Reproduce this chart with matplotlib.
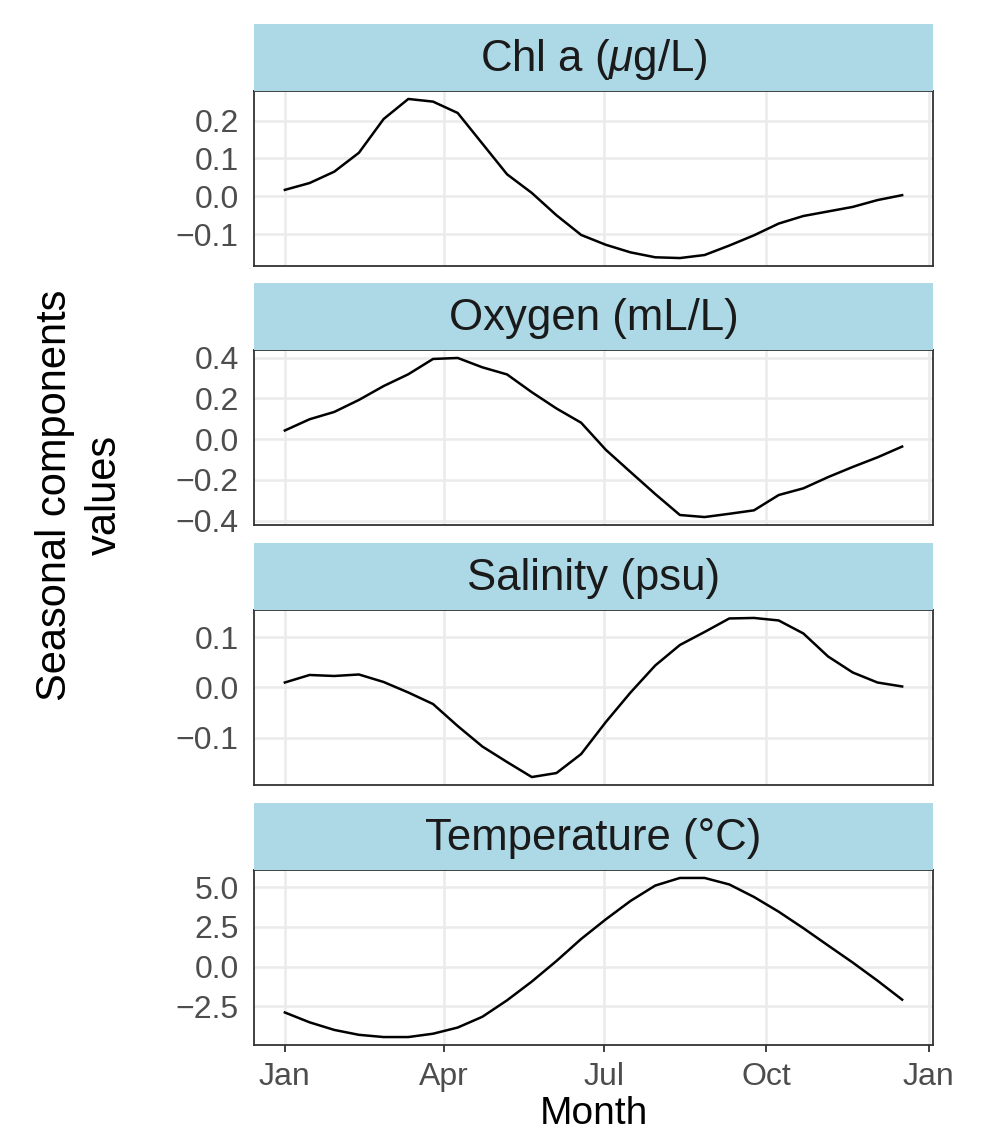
import datetime as dt
import numpy as np
import matplotlib
matplotlib.use("Agg")
import matplotlib.pyplot as plt
import matplotlib.dates as mdates
from matplotlib.ticker import FixedLocator, FuncFormatter

plt.rcParams['font.family'] = ['Liberation Sans', 'DejaVu Sans']
plt.rcParams['mathtext.fontset'] = 'custom'
plt.rcParams['mathtext.it'] = 'Liberation Sans:italic'
plt.rcParams['mathtext.rm'] = 'Liberation Sans'

# biweekly seasonal components, one value every 14 days from Jan 1
dates = [dt.date(2001, 1, 1) + dt.timedelta(days=14 * i) for i in range(26)]

chl = [0.017, 0.035, 0.065, 0.115, 0.204, 0.257, 0.250, 0.220, 0.139, 0.058,
       0.009, -0.050, -0.102, -0.128, -0.148, -0.161, -0.163, -0.155, -0.130,
       -0.103, -0.072, -0.052, -0.040, -0.028, -0.010, 0.003]
oxygen = [0.042, 0.097, 0.133, 0.192, 0.260, 0.318, 0.393, 0.398, 0.352, 0.317,
          0.230, 0.150, 0.080, -0.053, -0.162, -0.270, -0.373, -0.383, -0.367,
          -0.350, -0.275, -0.242, -0.187, -0.137, -0.090, -0.037]
salinity = [0.010, 0.025, 0.023, 0.026, 0.011, -0.010, -0.033, -0.077, -0.118,
            -0.149, -0.179, -0.171, -0.133, -0.069, -0.010, 0.044, 0.085, 0.111,
            0.138, 0.139, 0.134, 0.108, 0.062, 0.030, 0.010, 0.002]
temperature = [-2.90, -3.52, -4.00, -4.31, -4.45, -4.45, -4.24, -3.85, -3.17,
               -2.13, -0.95, 0.35, 1.74, 2.98, 4.14, 5.11, 5.59, 5.59, 5.18,
               4.39, 3.46, 2.42, 1.33, 0.25, -0.89, -2.09]

titles = ['Chl a ($\\mu$g/L)', 'Oxygen (mL/L)', 'Salinity (psu)', 'Temperature (\u00b0C)']
series = [chl, oxygen, salinity, temperature]
yticks = [[-0.1, 0.0, 0.1, 0.2],
          [-0.4, -0.2, 0.0, 0.2, 0.4],
          [-0.1, 0.0, 0.1],
          [-2.5, 0.0, 2.5, 5.0]]

W, H = 994, 1132
fig = plt.figure(figsize=(W / 100, H / 100), dpi=100)

left, right = 254, 933
panel_tops = [91, 350, 610, 870]
panel_h = 175
strip_h = 67

xnum = mdates.date2num(dates)
span = xnum[-1] - xnum[0]
xlim = (xnum[0] - 0.05 * span, xnum[-1] + 0.05 * span)

fmt = FuncFormatter(lambda v, p: ('%.1f' % v).replace('-', '\u2212'))

for i, (vals, title, yt) in enumerate(zip(series, titles, yticks)):
    top = panel_tops[i]
    ax = fig.add_axes([left / W, 1 - (top + panel_h) / H, (right - left) / W, panel_h / H])
    ax.plot(dates, vals, color='black', lw=1.8, zorder=3)
    ax.set_xlim(xlim)
    lo, hi = min(vals), max(vals)
    pad = 0.05 * (hi - lo)
    ax.set_ylim(lo - pad, hi + pad)
    ax.yaxis.set_major_locator(FixedLocator(yt))
    ax.yaxis.set_major_formatter(fmt)
    ax.xaxis.set_major_locator(mdates.MonthLocator(bymonth=[1, 4, 7, 10]))
    ax.xaxis.set_major_formatter(mdates.DateFormatter('%b'))
    ax.grid(True, color='#EBEBEB', lw=1.8, zorder=0)
    ax.set_axisbelow(True)
    for s in ax.spines.values():
        s.set_color('#333333')
        s.set_linewidth(1.3)
    ax.tick_params(axis='y', length=0, pad=11, labelsize=23, labelcolor='#4D4D4D')
    ax.tick_params(axis='x', length=5, width=1.3, color='#333333', pad=7,
                   labelsize=23, labelcolor='#4D4D4D')
    if i < 3:
        ax.tick_params(axis='x', bottom=False, labelbottom=False)

    # facet strip
    sax = fig.add_axes([left / W, 1 - top / H, (right - left) / W, strip_h / H])
    sax.set_facecolor('#ADD8E6')
    sax.set_xticks([])
    sax.set_yticks([])
    for s in sax.spines.values():
        s.set_visible(False)
    sax.text(0.5, 0.47, title, ha='center', va='center', fontsize=31.5,
             color='#1A1A1A', transform=sax.transAxes)

fig.text((left + right) / 2 / W, 1 - 1114 / H, 'Month', ha='center', va='center',
         fontsize=28, color='black')
fig.text(80 / W, 1 - 495 / H, 'Seasonal components\nvalues', ha='center', va='center',
         rotation=90, fontsize=30, color='black', linespacing=1.3,
         multialignment='center')

fig.savefig('out.png', dpi=100)
